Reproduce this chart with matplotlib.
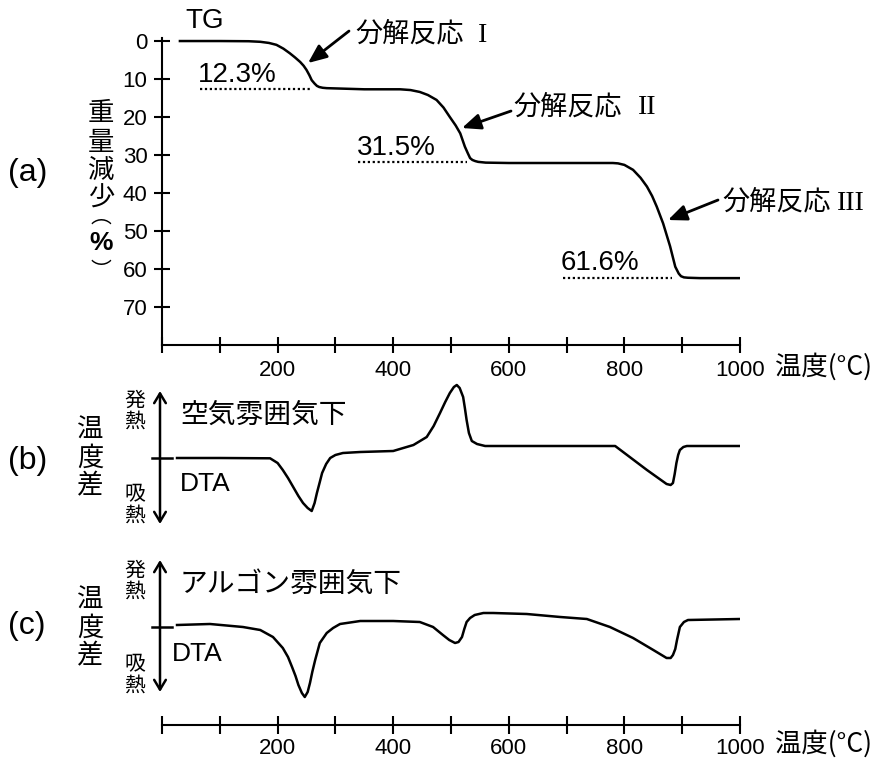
import matplotlib
matplotlib.use('Agg')
import matplotlib.pyplot as plt

W, H = 878, 758
JP = 'Noto Sans CJK JP'
SANS = 'Liberation Sans'
SERIF = 'Liberation Serif'

# ---------------- data ----------------
# (a) TG curve: weight loss (%) vs temperature (°C)
tg_temp = [31, 100, 150, 170, 185, 198, 210, 221, 230, 239, 245, 250, 255, 259, 264, 268, 272, 278, 285,
           350, 412, 430, 446, 460, 475, 487, 498, 508, 516, 524, 529, 533, 537, 542, 547, 560, 600, 700,
           780, 789, 800, 815, 828, 839, 848, 856, 867, 879, 888, 894, 898, 903, 910, 931, 1000]
tg_loss = [0, 0, 0.05, 0.2, 0.5, 1.0, 2.0, 3.2, 4.3, 5.5, 6.5, 7.6, 9.0, 10.3, 11.2, 11.8, 12.1, 12.3, 12.4,
           12.7, 12.7, 12.9, 13.4, 14.2, 15.5, 17.5, 20.0, 22.2, 24.3, 27.8, 29.5, 30.8, 31.3, 31.6, 31.8, 32.0, 32.1, 32.1,
           32.1, 32.2, 32.6, 33.9, 36.0, 38.3, 40.8, 43.6, 48.0, 54.0, 59.4, 61.2, 61.9, 62.2, 62.3, 62.4, 62.4]

# step annotations: (label, level %, start °C, end °C)
step_labels = ['12.3%', '31.5%', '61.6%']
step_levels = [12.6, 31.9, 62.4]
step_start = [66, 339, 694]
step_end = [256, 528, 882]

reaction_names = ['分解反応', '分解反応', '分解反応']
reaction_nums = ['I', 'II', 'III']

# (b) DTA in air (arbitrary units, + = exothermic)
dta_air_temp = [26, 100, 187, 200, 209, 218, 227, 236, 244, 252, 259, 264, 268, 273, 277, 284, 291, 300,
                313, 343, 400, 435, 458, 470, 481, 490, 498, 505, 510, 515, 521, 524, 527, 531, 536, 545,
                559, 600, 700, 784, 839, 873, 880, 884, 887, 890, 893, 896, 902, 908, 1000]
dta_air_sig = [0, 0, -0.03, -0.5, -1.2, -2.0, -2.9, -3.8, -4.5, -5.0, -5.3, -4.5, -3.5, -2.4, -1.5, -0.6, 0, 0.3,
               0.5, 0.6, 0.7, 1.3, 2.1, 3.2, 4.5, 5.6, 6.5, 7.1, 7.3, 7.0, 6.1, 5.0, 3.8, 2.5, 1.7, 1.4,
               1.2, 1.2, 1.2, 1.2, -1.2, -2.6, -2.7, -2.5, -1.6, -0.5, 0.3, 0.8, 1.1, 1.2, 1.2]

# (c) DTA in argon
dta_ar_temp = [26, 83, 140, 170, 192, 209, 218, 225, 231, 236, 242, 247, 252, 256, 260, 265, 273, 285, 296,
               308, 343, 400, 446, 469, 486, 497, 507, 513, 519, 523, 527, 533, 541, 556, 573, 631, 689,
               735, 775, 815, 850, 873, 880, 884, 888, 891, 896, 903, 910, 1000]
dta_ar_sig = [0.2, 0.3, 0, -0.3, -1.0, -2.1, -3.0, -4.0, -4.9, -5.8, -6.6, -7.0, -6.5, -5.6, -4.5, -3.3, -1.6, -0.6, -0.1,
              0.3, 0.6, 0.6, 0.5, 0, -0.8, -1.3, -1.6, -1.5, -1.0, -0.2, 0.5, 0.9, 1.2, 1.4, 1.4, 1.3, 1.0,
              0.8, 0, -1.1, -2.3, -3.1, -3.1, -2.8, -2.2, -1.3, 0, 0.5, 0.7, 0.8]

x_ticks = list(range(0, 1001, 100))
x_ticklabels = ['' if t % 200 or t == 0 else str(t) for t in x_ticks]
y_ticks = list(range(0, 71, 10))

# ---------------- figure ----------------
fig = plt.figure(figsize=(W / 100, H / 100), dpi=100)

def fx(px):
    return px / W

def fy(py):
    return 1 - py / H

X0, X1 = 162, 740

def add_ax(top_px, bottom_px):
    return fig.add_axes([fx(X0), fy(bottom_px), (X1 - X0) / W, (bottom_px - top_px) / H])

LW = 1.8

# ---- (a) TG ----
ax = add_ax(38, 345)
ax.set_xlim(0, 1000)
ax.set_ylim(80, -0.8)
ax.patch.set_alpha(0)
for s in ('top', 'right'):
    ax.spines[s].set_visible(False)
for s in ('left', 'bottom'):
    ax.spines[s].set_linewidth(1.5)
ax.plot(tg_temp, tg_loss, color='black', lw=LW, solid_joinstyle='round')
ax.set_xticks(x_ticks)
ax.set_xticklabels(x_ticklabels)
ax.set_yticks(y_ticks)
ax.tick_params(axis='x', direction='inout', length=11, width=1.5, pad=5, labelsize=16,
               labelfontfamily=SANS)
ax.tick_params(axis='y', direction='inout', length=12, width=1.5, pad=4.5, labelsize=16,
               labelfontfamily=SANS)

for lab, lev, s, e in zip(step_labels, step_levels, step_start, step_end):
    ax.plot([s, e], [lev, lev], color='black', lw=1.6, linestyle=(0, (1, 1.2)))

# percent texts
pct_pos = [(198, 75), (357, 148), (561, 263)]
for lab, (px, py) in zip(step_labels, pct_pos):
    fig.text(fx(px), fy(py), lab, fontsize=20, family=SANS, ha='left', va='center')

fig.text(fx(185), fy(21), 'TG', fontsize=20, family=SANS, ha='left', va='center')

# arrows for reactions (tip, tail) in pixel coords
def p2d(px, py):
    return ((px - X0) / 0.578, (py - 41) / 3.8)

arrows = [((308, 63), (349, 31)), ((462, 128), (511, 111)), ((668, 220), (718, 200))]
for (tip, tail) in arrows:
    ax.annotate('', xy=p2d(*tip), xytext=p2d(*tail), xycoords='data', textcoords='data',
                annotation_clip=False,
                arrowprops=dict(arrowstyle='-|>,head_length=0.75,head_width=0.32', color='black',
                                lw=2.0, mutation_scale=15, shrinkA=0, shrinkB=0))

rx_pos = [(355, 34, 478), (513, 107, 638), (722, 202, 837)]
for name, num, (px, py, nx) in zip(reaction_names, reaction_nums, rx_pos):
    fig.text(fx(px), fy(py), name, fontsize=19.5, family=JP, ha='left', va='center')
    fig.text(fx(nx), fy(py + 1), num, fontsize=20, family=SERIF, ha='left', va='center')

fig.text(fx(8), fy(173), '(a)', fontsize=23, family=SANS, ha='left', va='center')

# vertical y label (vertical-form parentheses)
ylab_chars = [('重', 113, 19), ('量', 142, 19), ('減', 170, 19), ('少', 198, 19),
              ('︵', 217, 15), ('%', 243, 19), ('︶', 271, 15)]
for ch, py, fs in ylab_chars:
    fam = SANS if ch == '%' else JP
    fig.text(fx(101), fy(py), ch, fontsize=fs, family=fam, ha='center', va='center',
             fontweight='bold' if ch == '%' else 'normal')

fig.text(fx(775), fy(367), '温度(°C)', fontsize=19, family=JP, ha='left', va='center')

# ---- DTA panels ----
def dta_panel(top, bottom, ylim, temps, sig, arrow_top_py, arrow_bot_py,
              title, title_py, dta_px, dta_py, letter, letter_py, ylab_py, exo_py, endo_py):
    a = add_ax(top, bottom)
    a.set_xlim(0, 1000)
    a.set_ylim(*ylim)
    a.axis('off')
    a.plot(temps, sig, color='black', lw=LW, solid_joinstyle='round')
    scale = (bottom - top) / (ylim[1] - ylim[0])
    def py2d(py):
        return ylim[1] - (py - top) / scale
    def px2d(px):
        return (px - X0) / 0.578
    a.plot([px2d(152), px2d(172)], [0, 0], color='black', lw=1.8, clip_on=False)
    a.annotate('', xy=(px2d(160), py2d(arrow_top_py)), xytext=(px2d(160), py2d(arrow_bot_py)),
               annotation_clip=False,
               arrowprops=dict(arrowstyle='<->,head_length=0.5,head_width=0.3', color='black',
                               lw=1.8, mutation_scale=14, shrinkA=0, shrinkB=0))
    fig.text(fx(180), fy(title_py), title, fontsize=20, family=JP, ha='left', va='center')
    fig.text(fx(dta_px), fy(dta_py), 'DTA', fontsize=19, family=SANS, ha='left', va='center')
    fig.text(fx(8), fy(letter_py), letter, fontsize=23, family=SANS, ha='left', va='center')
    for i, ch in enumerate('温度差'):
        fig.text(fx(90), fy(ylab_py + (i - 1) * 28), ch, fontsize=19, family=JP, ha='center', va='center')
    for i, ch in enumerate('発熱'):
        fig.text(fx(135), fy(exo_py + (i - 0.5) * 21), ch, fontsize=15, family=JP, ha='center', va='center')
    for i, ch in enumerate('吸熱'):
        fig.text(fx(135), fy(endo_py + (i - 0.5) * 21), ch, fontsize=15, family=JP, ha='center', va='center')
    return a

dta_panel(380, 535, (-7.7, 7.8), dta_air_temp, dta_air_sig, 391, 524,
          '空気雰囲気下', 415, 180, 484, '(b)', 461, 458, 411, 505)
dta_panel(555, 705, (-7.8, 7.2), dta_ar_temp, dta_ar_sig, 560, 692,
          'アルゴン雰囲気下', 584, 172, 654, '(c)', 626, 628, 581, 675)

# ---- bottom temperature axis ----
axb = add_ax(715, 725)
axb.set_xlim(0, 1000)
axb.set_ylim(0, 1)
axb.patch.set_alpha(0)
for s in ('top', 'right', 'left'):
    axb.spines[s].set_visible(False)
axb.spines['bottom'].set_linewidth(1.5)
axb.set_yticks([])
axb.set_xticks(x_ticks)
axb.set_xticklabels(x_ticklabels)
axb.tick_params(axis='x', direction='inout', length=13, width=1.5, pad=2.5, labelsize=16,
                labelfontfamily=SANS)
fig.text(fx(775), fy(744), '温度(°C)', fontsize=19, family=JP, ha='left', va='center')

fig.savefig('out.png', dpi=100)
